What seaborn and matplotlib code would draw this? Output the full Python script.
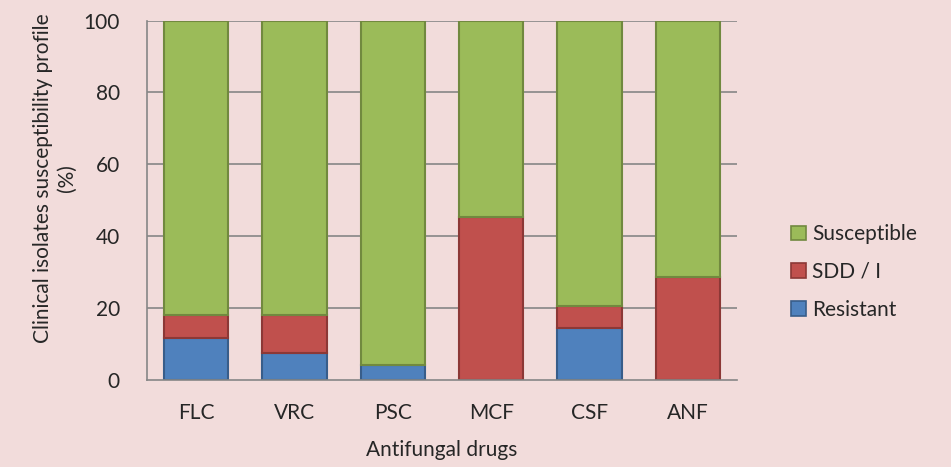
import seaborn as sns
import matplotlib.pyplot as plt
import numpy as np

# data (%)
drugs = ['FLC', 'VRC', 'PSC', 'MCF', 'CSF', 'ANF']
resistant = [11.7, 7.4, 4.0, 0.0, 14.3, 0.0]
sdd = [6.4, 10.7, 0.0, 45.3, 6.2, 28.6]
susceptible = [100 - r - s for r, s in zip(resistant, sdd)]

bg = '#F2DCDB'
sns.set_style('white')
plt.rcParams['font.family'] = ['Lato', 'DejaVu Sans']

fig, ax = plt.subplots(figsize=(9.51, 4.67), dpi=100)
fig.patch.set_facecolor(bg)
ax.set_facecolor(bg)
fig.subplots_adjust(left=0.1545, right=0.775, top=0.956, bottom=0.187)

for y in [20, 40, 60, 80, 100]:
    ax.axhline(y, color='#868686', lw=1.2, zorder=0)

bot2 = np.array(resistant) + np.array(sdd)
layers = [
    ('Resistant', resistant, np.zeros(6), '#4F81BD', '#385D8A'),
    ('SDD / I', sdd, np.array(resistant), '#C0504D', '#8C3836'),
    ('Susceptible', susceptible, bot2, '#9BBB59', '#71893F'),
]
handles = {}
for name, vals, bottom, fc, ec in layers:
    n_before = len(ax.containers)
    sns.barplot(x=drugs, y=vals, bottom=bottom, color=fc, edgecolor=ec,
                linewidth=1.5, width=0.655, saturation=1, ax=ax, zorder=2)
    cont = ax.containers[n_before]
    for p, v in zip(cont.patches, vals):
        if v == 0:
            p.set_linewidth(0)
    handles[name] = plt.Rectangle((0, 0), 1, 1, fc=fc, ec=ec, lw=1.2)

ax.set_xlim(-0.5, 5.5)
ax.set_ylim(0, 100)
ax.set_yticks([0, 20, 40, 60, 80, 100])
for s in ['top', 'right']:
    ax.spines[s].set_visible(False)
for s in ['left', 'bottom']:
    ax.spines[s].set_color('#868686')
    ax.spines[s].set_linewidth(1.2)
ax.tick_params(axis='both', length=0, labelsize=15)
ax.tick_params(axis='y', pad=19.5)
ax.tick_params(axis='x', pad=17)
ax.set_xlabel('Antifungal drugs', fontsize=15, labelpad=12)
ax.set_ylabel('Clinical isolates susceptibility profile\n(%)', fontsize=15,
              labelpad=5, linespacing=1.25, y=0.56)

order = ['Susceptible', 'SDD / I', 'Resistant']
ax.legend([handles[k] for k in order], order, loc='center left',
          bbox_to_anchor=(1.06, 0.30), frameon=False, fontsize=15,
          handlelength=0.7, handleheight=0.7, handletextpad=0.3,
          labelspacing=0.85)

fig.savefig('out.png', dpi=100, facecolor=bg)
